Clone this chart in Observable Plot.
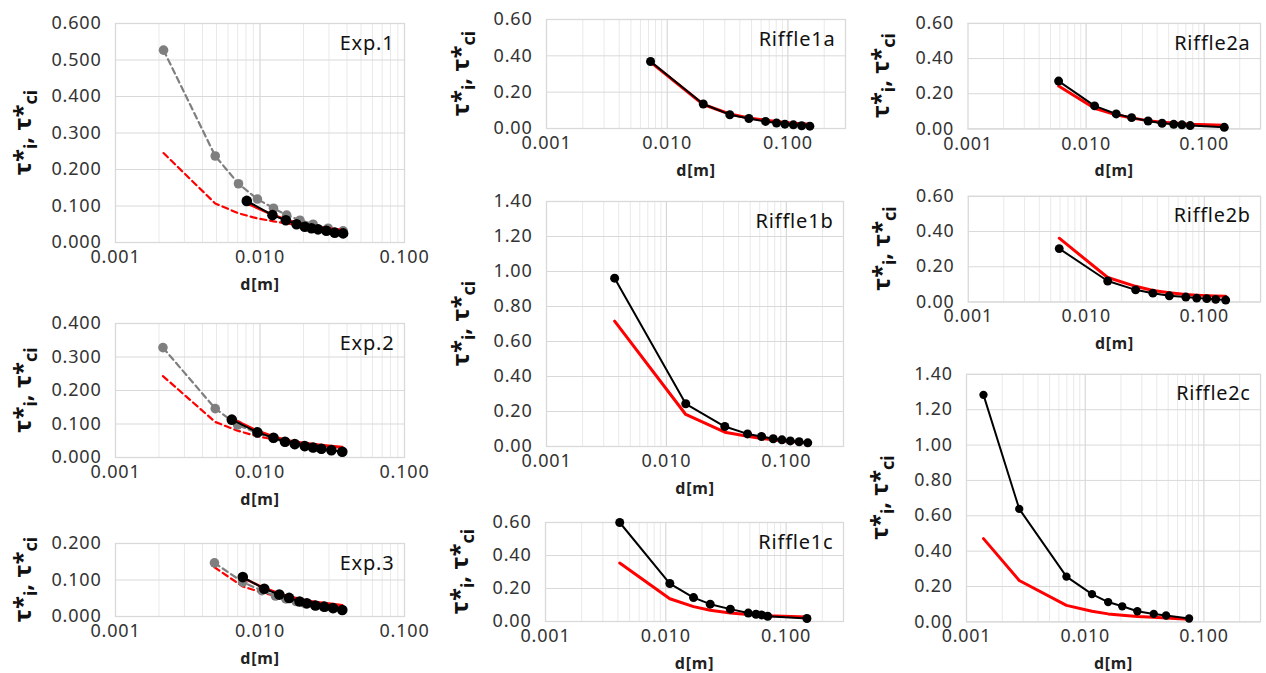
<!DOCTYPE html>
<html><head><meta charset="utf-8">
<script src="https://cdn.jsdelivr.net/npm/d3@7"></script>
<script src="https://cdn.jsdelivr.net/npm/@observablehq/plot@0.6"></script>
<style>
body{margin:0;background:#fff;}
#root{position:relative;width:1266px;height:673px;overflow:hidden;background:#fff;}
.panel{position:absolute;}
</style></head><body><div id="root"></div>
<script>
// ---------------- DATA ----------------
// Exp.1
const exp1_d_gray   = [0.00215, 0.0049, 0.0071, 0.0096, 0.0124, 0.0153, 0.0189, 0.0233, 0.0296, 0.0376];
const exp1_tau_gray = [0.527, 0.237, 0.161, 0.119, 0.094, 0.075, 0.061, 0.050, 0.039, 0.032];
const exp1_tau_rdash= [0.245, 0.107, 0.080, 0.066, 0.058, 0.052, 0.047, 0.043, 0.039, 0.035];
const exp1_d_black  = [0.0081, 0.0122, 0.0151, 0.0179, 0.0204, 0.0227, 0.0252, 0.0288, 0.0329, 0.0376];
const exp1_tau_black= [0.114, 0.075, 0.061, 0.050, 0.043, 0.039, 0.036, 0.032, 0.027, 0.025];
const exp1_tau_red  = [0.107, 0.076, 0.063, 0.054, 0.049, 0.045, 0.042, 0.039, 0.036, 0.034];
// Exp.2
const exp2_d_gray   = [0.00213, 0.0049, 0.0070, 0.0096, 0.0124, 0.0149, 0.0174, 0.0204, 0.0233, 0.0266, 0.0312, 0.0371];
const exp2_tau_gray = [0.328, 0.146, 0.097, 0.073, 0.057, 0.046, 0.039, 0.033, 0.029, 0.025, 0.021, 0.017];
const exp2_tau_rdash= [0.243, 0.106, 0.080, 0.063, 0.055, 0.049, 0.045, 0.041, 0.038, 0.035, 0.032, 0.029];
const exp2_d_black  = [0.00638, 0.0096, 0.0124, 0.0149, 0.0174, 0.0204, 0.0233, 0.0266, 0.0312, 0.0371];
const exp2_tau_black= [0.113, 0.075, 0.059, 0.047, 0.040, 0.034, 0.030, 0.026, 0.022, 0.017];
const exp2_tau_red  = [0.116, 0.080, 0.063, 0.053, 0.047, 0.043, 0.040, 0.037, 0.034, 0.031];
// Exp.3
const exp3_d_gray   = [0.00484, 0.0076, 0.0103, 0.0128, 0.0151, 0.0178, 0.0205, 0.0240, 0.0285, 0.0325, 0.0371];
const exp3_tau_gray = [0.147, 0.094, 0.071, 0.056, 0.048, 0.041, 0.035, 0.030, 0.026, 0.022, 0.018];
const exp3_tau_rdash= [0.135, 0.082, 0.066, 0.056, 0.050, 0.045, 0.041, 0.037, 0.033, 0.030, 0.027];
const exp3_d_black  = [0.0076, 0.0107, 0.0136, 0.0159, 0.0188, 0.0211, 0.0242, 0.0278, 0.0320, 0.0371];
const exp3_tau_black= [0.108, 0.076, 0.060, 0.051, 0.041, 0.036, 0.030, 0.027, 0.023, 0.018];
const exp3_tau_red  = [0.106, 0.078, 0.063, 0.055, 0.048, 0.044, 0.040, 0.037, 0.034, 0.031];
// Riffle1a
const r1a_d     = [0.00728, 0.0199, 0.033, 0.0475, 0.0653, 0.0805, 0.0944, 0.111, 0.130, 0.152];
const r1a_black = [0.369, 0.135, 0.076, 0.055, 0.039, 0.030, 0.024, 0.020, 0.015, 0.013];
const r1a_red   = [0.365, 0.132, 0.080, 0.058, 0.045, 0.038, 0.033, 0.029, 0.026, 0.023];
// Riffle1b
const r1b_d     = [0.0037, 0.0145, 0.0307, 0.0475, 0.0622, 0.0778, 0.092, 0.108, 0.128, 0.151];
const r1b_black = [0.962, 0.244, 0.114, 0.072, 0.057, 0.044, 0.038, 0.032, 0.027, 0.021];
const r1b_red   = [0.716, 0.183, 0.082, 0.058, 0.046, 0.038, 0.033, 0.029, 0.025, 0.022];
// Riffle1c
const r1c_d     = [0.00414, 0.0108, 0.0170, 0.0234, 0.0344, 0.0485, 0.0562, 0.0626, 0.0703, 0.149];
const r1c_black = [0.600, 0.230, 0.145, 0.105, 0.075, 0.051, 0.044, 0.040, 0.032, 0.018];
const r1c_red   = [0.354, 0.138, 0.090, 0.068, 0.052, 0.042, 0.039, 0.037, 0.035, 0.028];
// Riffle2a
const r2a_d     = [0.00585, 0.0118, 0.018, 0.0243, 0.0335, 0.044, 0.0552, 0.0648, 0.0762, 0.148];
const r2a_black = [0.272, 0.131, 0.085, 0.064, 0.045, 0.032, 0.026, 0.023, 0.019, 0.009];
const r2a_red   = [0.244, 0.117, 0.080, 0.062, 0.047, 0.038, 0.033, 0.030, 0.027, 0.021];
// Riffle2b
const r2b_d     = [0.0059, 0.0152, 0.0262, 0.0367, 0.0506, 0.0698, 0.0863, 0.105, 0.125, 0.152];
const r2b_black = [0.303, 0.119, 0.069, 0.050, 0.035, 0.028, 0.022, 0.019, 0.015, 0.011];
const r2b_red   = [0.362, 0.139, 0.089, 0.065, 0.052, 0.043, 0.039, 0.036, 0.034, 0.032];
// Riffle2c
const r2c_d     = [0.00139, 0.00278, 0.00695, 0.0114, 0.0156, 0.0205, 0.0275, 0.0378, 0.048, 0.075];
const r2c_black = [1.284, 0.639, 0.256, 0.157, 0.112, 0.088, 0.060, 0.045, 0.036, 0.019];
const r2c_red   = [0.471, 0.234, 0.093, 0.060, 0.045, 0.037, 0.030, 0.026, 0.022, 0.015];

const xTickValues = [0.001, 0.01, 0.1];

// ---------------- LAYOUT ----------------
const FONT = "'Noto Sans', 'DejaVu Sans', sans-serif";
const zip = (xs, ys) => xs.map((x, i) => ({x, y: ys[i]}));

const panels = [
  {name: "Exp.1", box: [115, 23, 404, 242], xMax: 0.1, yMax: 0.6, yStep: 0.1, dec: 3, titleOff: 84,
   gray: zip(exp1_d_gray, exp1_tau_gray), rdash: zip(exp1_d_gray, exp1_tau_rdash),
   black: zip(exp1_d_black, exp1_tau_black), red: zip(exp1_d_black, exp1_tau_red), r: 5.3},
  {name: "Exp.2", box: [115, 323, 404, 457], xMax: 0.1, yMax: 0.4, yStep: 0.1, dec: 3, titleOff: 84,
   gray: zip(exp2_d_gray, exp2_tau_gray), rdash: zip(exp2_d_gray, exp2_tau_rdash),
   black: zip(exp2_d_black, exp2_tau_black), red: zip(exp2_d_black, exp2_tau_red), r: 5.3},
  {name: "Exp.3", box: [115, 543, 404, 616], xMax: 0.1, yMax: 0.2, yStep: 0.1, dec: 3, titleOff: 84,
   gray: zip(exp3_d_gray, exp3_tau_gray), rdash: zip(exp3_d_gray, exp3_tau_rdash),
   black: zip(exp3_d_black, exp3_tau_black), red: zip(exp3_d_black, exp3_tau_red), r: 5.3},
  {name: "Riffle1a", box: [546, 19, 845, 128], xMax: 0.3, yMax: 0.6, yStep: 0.2, dec: 2, titleOff: 77,
   black: zip(r1a_d, r1a_black), red: zip(r1a_d, r1a_red), r: 4.5},
  {name: "Riffle1b", box: [546, 201, 843, 446], xMax: 0.3, yMax: 1.4, yStep: 0.2, dec: 2, titleOff: 77,
   black: zip(r1b_d, r1b_black), red: zip(r1b_d, r1b_red), r: 4.5},
  {name: "Riffle1c", box: [545, 522, 843, 621], xMax: 0.3, yMax: 0.6, yStep: 0.2, dec: 2, titleOff: 77,
   black: zip(r1c_d, r1c_black), red: zip(r1c_d, r1c_red), r: 4.5},
  {name: "Riffle2a", box: [968, 23, 1262, 129], xMax: 0.3, yMax: 0.6, yStep: 0.2, dec: 2, titleOff: 79,
   black: zip(r2a_d, r2a_black), red: zip(r2a_d, r2a_red), r: 4.5},
  {name: "Riffle2b", box: [969, 196, 1265, 303], xMax: 0.3, yMax: 0.6, yStep: 0.2, dec: 2, titleOff: 79,
   black: zip(r2b_d, r2b_black), red: zip(r2b_d, r2b_red), r: 4.5},
  {name: "Riffle2c", box: [967, 374, 1264, 624], xMax: 0.3, yMax: 1.4, yStep: 0.2, dec: 2, titleOff: 79,
   black: zip(r2c_d, r2c_black), red: zip(r2c_d, r2c_red), r: 4.2}
];

const root = document.getElementById("root");
const mL = 100, mT = 15, mR = 6, mB = 56;

for (const p of panels) {
  const [x0, y0, x1, y1] = p.box;
  const w = x1 - x0, h = y1 - y0;
  const minors = [];
  for (const dec of [0.001, 0.01, 0.1]) for (let k = 2; k <= 9; k++) {
    const v = +(k * dec).toPrecision(3);
    if (v < p.xMax - 1e-9) minors.push(v);
  }
  const majors = xTickValues.filter(v => v < p.xMax - 1e-9 && v > 0.001);
  const yTicks = d3.range(0, p.yMax + 1e-9, p.yStep).map(v => +v.toFixed(3));
  const marks = [
    Plot.gridX(minors, {stroke: "#e9e9e9", strokeOpacity: 1, strokeWidth: 1}),
    Plot.gridX(majors, {stroke: "#d0d0d0", strokeOpacity: 1, strokeWidth: 1}),
    Plot.gridY(yTicks, {stroke: "#d9d9d9", strokeOpacity: 1, strokeWidth: 1}),
    Plot.frame({stroke: "#d9d9d9", strokeWidth: 1.3}),
    Plot.axisX(xTickValues, {tickSize: 0, tickPadding: 8, tickFormat: d3.format(".3f"), label: null, fontSize: 18}),
    Plot.axisY(yTicks, {tickSize: 0, tickPadding: 14, tickFormat: d3.format(`.${p.dec}f`), label: null, fontSize: 18}),
  ];
  if (p.gray) {
    marks.push(
      Plot.line(p.rdash, {x: "x", y: "y", stroke: "#ff0000", strokeWidth: 2.2, strokeDasharray: "6,4"}),
      Plot.line(p.gray, {x: "x", y: "y", stroke: "#7f7f7f", strokeWidth: 2.2, strokeDasharray: "6,4"}),
      Plot.dot(p.gray, {x: "x", y: "y", r: 4.8, fill: "#7f7f7f"})
    );
  }
  marks.push(
    Plot.line(p.red, {x: "x", y: "y", stroke: "#ff0000", strokeWidth: p.gray ? 2.5 : 3}),
    Plot.line(p.black, {x: "x", y: "y", stroke: "#000", strokeWidth: 2}),
    Plot.dot(p.black, {x: "x", y: "y", r: p.r, fill: "#000"}),
    Plot.text([p.name], {frameAnchor: "top-right", dx: -10, dy: 20, textAnchor: "end", lineAnchor: "middle",
      fontSize: 20, fill: "#111"}),
    Plot.text(["d[m]"], {frameAnchor: "bottom", dy: 42, lineAnchor: "middle", fontSize: 16, fontWeight: "bold", fill: "#222"})
  );
  const chart = Plot.plot({
    width: w + mL + mR, height: h + mT + mB,
    marginLeft: mL, marginRight: mR, marginTop: mT, marginBottom: mB,
    x: {type: "log", domain: [0.001, p.xMax]},
    y: {domain: [0, p.yMax]},
    style: {fontFamily: FONT, fontSize: "18px", color: "#333", background: "transparent",
            overflow: "visible", letterSpacing: "0.8px"},
    marks
  });
  // y-axis title with subscripts
  const svg = d3.select(chart);
  const t = svg.append("text")
    .attr("transform", `translate(${mL - p.titleOff},${mT + h / 2}) rotate(-90)`)
    .attr("text-anchor", "middle")
    .attr("font-family", FONT)
    .attr("font-weight", "bold")
    .attr("font-size", 24)
    .attr("letter-spacing", "0px")
    .attr("fill", "#111");
  t.append("tspan").text("τ*");
  t.append("tspan").attr("font-size", 18).attr("dy", 6).text("i");
  t.append("tspan").attr("dy", -6).text(", τ*");
  t.append("tspan").attr("font-size", 18).attr("dy", 6).text("ci");
  const div = document.createElement("div");
  div.className = "panel";
  div.style.left = (x0 - mL) + "px";
  div.style.top = (y0 - mT) + "px";
  div.appendChild(chart);
  root.appendChild(div);
}
</script>
</body></html>
